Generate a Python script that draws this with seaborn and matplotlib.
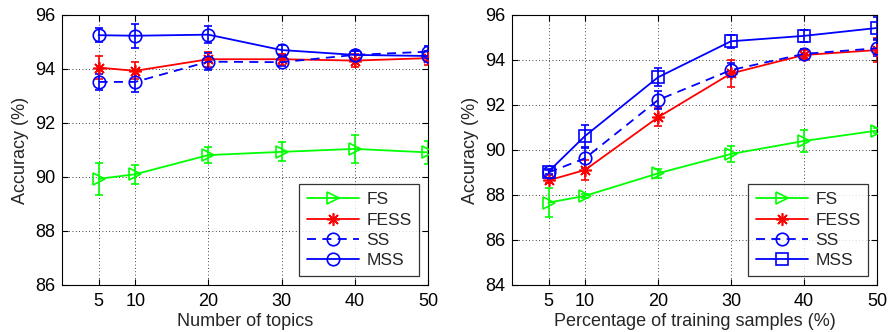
import numpy as np
import pandas as pd
import matplotlib
matplotlib.use("Agg")
import matplotlib.pyplot as plt
import seaborn as sns

# values
x_vals = [5, 10, 20, 30, 40, 50]
methods = ["FS", "FESS", "SS", "MSS"]

# left: number of topics
topics_mean = {
    "FS":   [89.93, 90.10, 90.81, 90.93, 91.04, 90.91],
    "FESS": [94.05, 93.93, 94.36, 94.36, 94.31, 94.40],
    "SS":   [93.52, 93.52, 94.27, 94.25, 94.52, 94.64],
    "MSS":  [95.25, 95.23, 95.27, 94.70, 94.52, 94.48],
}
topics_err = {
    "FS":   [0.59, 0.36, 0.31, 0.35, 0.52, 0.44],
    "FESS": [0.44, 0.31, 0.27, 0.20, 0.23, 0.26],
    "SS":   [0.30, 0.39, 0.31, 0.15, 0.15, 0.20],
    "MSS":  [0.27, 0.45, 0.32, 0.20, 0.15, 0.20],
}

# right: percentage of training samples
train_mean = {
    "FS":   [87.66, 87.96, 88.96, 89.82, 90.40, 90.86],
    "FESS": [88.65, 89.11, 91.45, 93.40, 94.22, 94.44],
    "SS":   [89.00, 89.63, 92.22, 93.55, 94.27, 94.52],
    "MSS":  [89.04, 90.62, 93.23, 94.83, 95.07, 95.42],
}
train_err = {
    "FS":   [0.64, 0.10, 0.20, 0.35, 0.48, 0.10],
    "FESS": [0.10, 0.44, 0.40, 0.59, 0.20, 0.52],
    "SS":   [0.10, 0.45, 0.40, 0.30, 0.20, 0.35],
    "MSS":  [0.10, 0.48, 0.40, 0.30, 0.26, 0.50],
}

colors = {"FS": "#00ff00", "FESS": "#ff0000", "SS": "#0000ff", "MSS": "#0000ff"}
styles = {"FS": "-", "FESS": "-", "SS": (0, (5, 3.5)), "MSS": "-"}

sns.set_style("ticks")
plt.rcParams["font.family"] = ["Liberation Sans", "DejaVu Sans"]
plt.rcParams["font.size"] = 12.5

fig = plt.figure(figsize=(8.88, 3.32), dpi=100)
ax1 = fig.add_axes([0.0698, 0.1416, 0.4122, 0.8134])
ax2 = fig.add_axes([0.5766, 0.1416, 0.4110, 0.8134])


def draw(ax, means, errs, mss_marker, ylim, yticks, xlabel):
    markers = {"FS": ">", "FESS": (8, 2, 0), "SS": "o", "MSS": mss_marker}
    for m in methods:
        ax.errorbar(x_vals, means[m], yerr=errs[m], fmt="none",
                    ecolor=colors[m], elinewidth=1.2, capsize=3, capthick=1.2, zorder=2)
        sns.lineplot(x=x_vals, y=means[m], ax=ax, color=colors[m],
                     linestyle=styles[m], marker=markers[m], markersize=9,
                     markerfacecolor="none", markeredgecolor=colors[m],
                     markeredgewidth=1.2, linewidth=1.3, label=m, zorder=3)
    ax.set_xlim(0, 50)
    ax.set_ylim(*ylim)
    ax.set_xticks(x_vals)
    ax.set_yticks(yticks)
    ax.grid(True, color="black", linestyle=(0, (1, 3)), linewidth=0.6)
    ax.tick_params(direction="in", top=True, right=True, length=4,
                   labelsize=13, colors="black")
    ax.tick_params(axis="x", pad=6)
    ax.tick_params(axis="y", pad=5)
    for s in ax.spines.values():
        s.set_visible(True)
        s.set_color("black")
        s.set_linewidth(0.8)
    ax.set_xlabel(xlabel, fontsize=13, labelpad=2)
    ax.set_ylabel("Accuracy (%)", fontsize=13, labelpad=4)
    leg = ax.legend(loc="lower right", fontsize=12.5, frameon=True, fancybox=False,
                    edgecolor="black", borderaxespad=0.5, handlelength=3.0,
                    labelspacing=0.3, borderpad=0.45, handletextpad=0.4)
    leg.get_frame().set_linewidth(0.9)


draw(ax1, topics_mean, topics_err, "o", (86, 96), [86, 88, 90, 92, 94, 96],
     "Number of topics")
draw(ax2, train_mean, train_err, "s", (84, 96), [84, 86, 88, 90, 92, 94, 96],
     "Percentage of training samples (%)")

fig.savefig("out.png", dpi=100)
